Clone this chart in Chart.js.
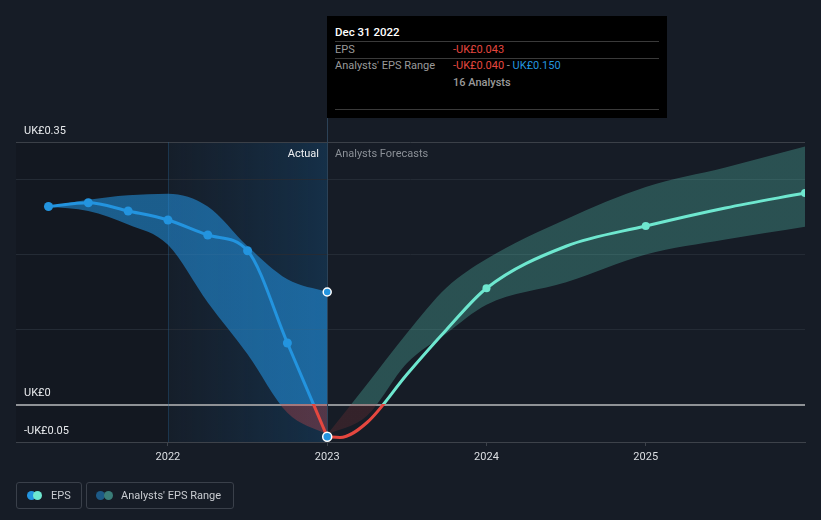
<!DOCTYPE html>
<html>
<head>
<meta charset="utf-8">
<script src="https://cdn.jsdelivr.net/npm/chart.js@4"></script>
<style>
  html,body{margin:0;padding:0;background:#161c26;}
  body{width:821px;height:520px;position:relative;overflow:hidden;font-family:Roboto,"Noto Sans",sans-serif;font-size:11px;}
  #wrap{position:absolute;left:0;top:0;width:821px;height:520px;}
  .abs{position:absolute;white-space:nowrap;line-height:14px;}
  .tip{position:absolute;left:327px;top:16px;width:340px;height:102px;background:#000;}
  .sep{position:absolute;left:8px;width:324px;height:1px;background:#3a3a3a;}
  .red{color:#e5473f;} .blue{color:#2394df;} .grey{color:#9a9a9a;}
  .lg{position:absolute;top:482px;height:27px;box-sizing:border-box;border:1px solid #3a404a;border-radius:3px;}
  .dot{position:absolute;top:8px;width:9px;height:9px;border-radius:50%;}
  .lg span.t{position:absolute;left:34px;top:5.5px;line-height:14px;color:#c9ccd1;white-space:nowrap;}
</style>
</head>
<body>
<div id="wrap"><canvas id="c" width="821" height="520"></canvas></div>

<div class="tip">
  <div class="abs" style="left:8px;top:9px;color:#fff;font-weight:500;font-size:11.5px;">Dec 31 2022</div>
  <div class="sep" style="top:25px;"></div>
  <div class="abs grey" style="left:8px;top:26.5px;">EPS</div>
  <div class="abs red" style="left:126px;top:26.5px;">-UK£0.043</div>
  <div class="sep" style="top:42px;"></div>
  <div class="abs grey" style="left:8px;top:43px;">Analysts' EPS Range</div>
  <div class="abs" style="left:126px;top:43px;"><span class="red">-UK£0.040</span><span class="grey"> - </span><span class="blue">UK£0.150</span></div>
  <div class="abs grey" style="left:126px;top:60px;font-weight:500;">16 Analysts</div>
  <div class="sep" style="top:93px;"></div>
</div>

<div class="abs" style="right:502px;top:147px;color:#eef0f2;">Actual</div>
<div class="abs" style="left:335px;top:147px;color:#8b9097;">Analysts Forecasts</div>

<div class="lg" style="left:16px;width:66px;">
  <div class="dot" style="left:10px;background:#2394df;"></div>
  <div class="dot" style="left:16px;background:#6ee7cf;"></div>
  <span class="t">EPS</span>
</div>
<div class="lg" style="left:86px;width:148px;">
  <div class="dot" style="left:9px;background:#1d5a86;"></div>
  <div class="dot" style="left:17px;background:#3a7d78;"></div>
  <span class="t">Analysts' EPS Range</span>
</div>

<script>
// actual EPS (quarterly) and analysts' range
const actualX = [2021.25, 2021.5, 2021.75, 2022, 2022.25, 2022.5, 2022.75, 2023];
const actualEps = [0.264, 0.269, 0.258, 0.246, 0.226, 0.205, 0.082, -0.043];
const actualHigh = [0.264, 0.273, 0.279, 0.281, 0.264, 0.211, 0.167, 0.150];
const actualLow = [0.264, 0.258, 0.240, 0.213, 0.136, 0.067, -0.011, -0.040];

// forecast EPS and range
const fcX = [2023, 2023.08, 2023.25, 2023.5, 2023.75, 2024, 2024.5, 2025, 2025.5, 2026];
const fcEps = [-0.043, -0.044, -0.024, 0.040, 0.100, 0.155, 0.211, 0.238, 0.262, 0.282];
const fcDots = [0, 0, 0, 0, 0, 4, 0, 4, 0, 4];
const fcBandX = [2023, 2023.25, 2023.5, 2023.75, 2024, 2024.5, 2025, 2025.5, 2026];
const fcHigh = [-0.040, 0.027, 0.095, 0.156, 0.194, 0.247, 0.290, 0.316, 0.344];
const fcLow = [-0.040, -0.015, 0.055, 0.095, 0.133, 0.163, 0.200, 0.220, 0.237];

const yTicks = [-0.05, 0, 0.1, 0.2, 0.3, 0.35];
const yLabels = {"-0.05": "-UK£0.05", "0": "UK£0", "0.35": "UK£0.35"};
const xTicks = [2022, 2023, 2024, 2025];

const pts = (xs, ys) => xs.map((x, i) => ({x, y: ys[i]}));

// colour split at zero: above / below
function split(above, below) {
  return ctx => {
    const chart = ctx.chart, a = chart.chartArea;
    if (!a) return above;
    const y0 = chart.scales.y.getPixelForValue(0);
    const g = chart.ctx.createLinearGradient(0, a.top, 0, a.bottom);
    const s = Math.min(1, Math.max(0, (y0 - a.top) / (a.bottom - a.top)));
    g.addColorStop(0, above); g.addColorStop(s, above);
    g.addColorStop(s, below); g.addColorStop(1, below);
    return g;
  };
}

const bgPlugin = {
  id: 'bg',
  beforeDraw(chart) {
    const {ctx, chartArea: a, scales: {x}} = chart;
    const x22 = x.getPixelForValue(2022), x23 = x.getPixelForValue(2023);
    ctx.save();
    ctx.fillStyle = 'rgba(0,0,0,0.13)';
    ctx.fillRect(a.left, a.top, x22 - a.left, a.bottom - a.top);
    const g = ctx.createLinearGradient(x22, 0, x23, 0);
    g.addColorStop(0, 'rgba(20,80,130,0.05)');
    g.addColorStop(1, 'rgba(20,90,145,0.32)');
    ctx.fillStyle = g;
    ctx.fillRect(x22, a.top, x23 - x22, a.bottom - a.top);
    ctx.restore();
  },
  beforeDatasetsDraw(chart) {
    const {ctx, chartArea: a, scales: {x}} = chart;
    const x22 = Math.round(x.getPixelForValue(2022)) + 0.5;
    const x23 = Math.round(x.getPixelForValue(2023)) + 0.5;
    ctx.save();
    ctx.lineWidth = 1;
    ctx.strokeStyle = 'rgba(40,100,150,0.35)';
    ctx.beginPath(); ctx.moveTo(x22, a.top); ctx.lineTo(x22, a.bottom); ctx.stroke();
    ctx.strokeStyle = '#2c4257';
    ctx.beginPath(); ctx.moveTo(x23, 118); ctx.lineTo(x23, a.bottom); ctx.stroke();
    ctx.restore();
  }
};

Chart.defaults.font.family = 'Roboto, "Noto Sans", sans-serif';
Chart.defaults.font.size = 11;

new Chart(document.getElementById('c'), {
  type: 'line',
  data: {
    datasets: [
      {
        data: pts(actualX, actualHigh), fill: '+1', order: 2,
        backgroundColor: split('rgba(35,150,230,0.55)', 'rgba(200,70,75,0.35)'),
        borderWidth: 0,
        pointRadius: actualX.map((_, i) => i === actualX.length - 1 ? 4 : 0),
        pointBackgroundColor: '#2394df', pointBorderColor: '#ffffff', pointBorderWidth: 1.5
      },
      { data: pts(actualX, actualLow), fill: false, order: 2, borderWidth: 0, pointRadius: 0 },
      {
        data: pts(fcBandX, fcHigh), fill: '+1', order: 2,
        backgroundColor: split('rgba(90,205,185,0.30)', 'rgba(160,60,60,0.22)'),
        borderWidth: 0, pointRadius: 0
      },
      { data: pts(fcBandX, fcLow), fill: false, order: 2, borderWidth: 0, pointRadius: 0 },
      {
        data: pts(fcX, fcEps), fill: false, order: 1,
        borderColor: split('#6ee7cf', '#e5473f'), borderWidth: 3,
        pointRadius: fcDots, pointBackgroundColor: '#6ee7cf', pointBorderWidth: 0
      },
      {
        data: pts(actualX, actualEps), fill: false, order: 0,
        borderColor: split('#2394df', '#e5473f'), borderWidth: 3,
        pointRadius: 4.5, pointBackgroundColor: '#2394df',
        pointBorderColor: actualX.map((_, i) => i === actualX.length - 1 ? '#ffffff' : '#2394df'),
        pointBorderWidth: actualX.map((_, i) => i === actualX.length - 1 ? 1.5 : 0)
      }
    ]
  },
  options: {
    responsive: false,
    animation: false,
    layout: { padding: { left: 16, right: 16, top: 142, bottom: 0 } },
    elements: { line: { cubicInterpolationMode: 'monotone' } },
    plugins: { legend: { display: false }, tooltip: { enabled: false } },
    scales: {
      x: {
        type: 'linear', min: 2021.046, max: 2026,
        afterBuildTicks: s => { s.ticks = xTicks.map(v => ({value: v})); },
        afterFit: s => { s.height = 78; },
        grid: { drawOnChartArea: false, drawTicks: true, tickLength: 4, color: '#3d424a' },
        border: { display: true, color: '#3d424a' },
        ticks: { color: '#dcdfe3', padding: 5, maxRotation: 0, callback: v => String(v) }
      },
      y: {
        min: -0.05, max: 0.35,
        afterBuildTicks: s => { s.ticks = yTicks.map(v => ({value: v})); },
        afterFit: s => { s.width = 0; },
        grid: {
          drawTicks: false,
          color: c => c.tick.value === 0 ? '#8f9296' : (c.tick.value === 0.35 ? '#3b4048' : (c.tick.value === -0.05 ? '#3d424a' : '#242b35')),
          lineWidth: c => c.tick.value === 0 ? 2 : 1
        },
        border: { display: false },
        ticks: {
          mirror: true, padding: 8, labelOffset: -11, color: '#e8eaed',
          callback: v => yLabels[String(v)] || ''
        }
      }
    }
  },
  plugins: [bgPlugin]
});
</script>
</body>
</html>
